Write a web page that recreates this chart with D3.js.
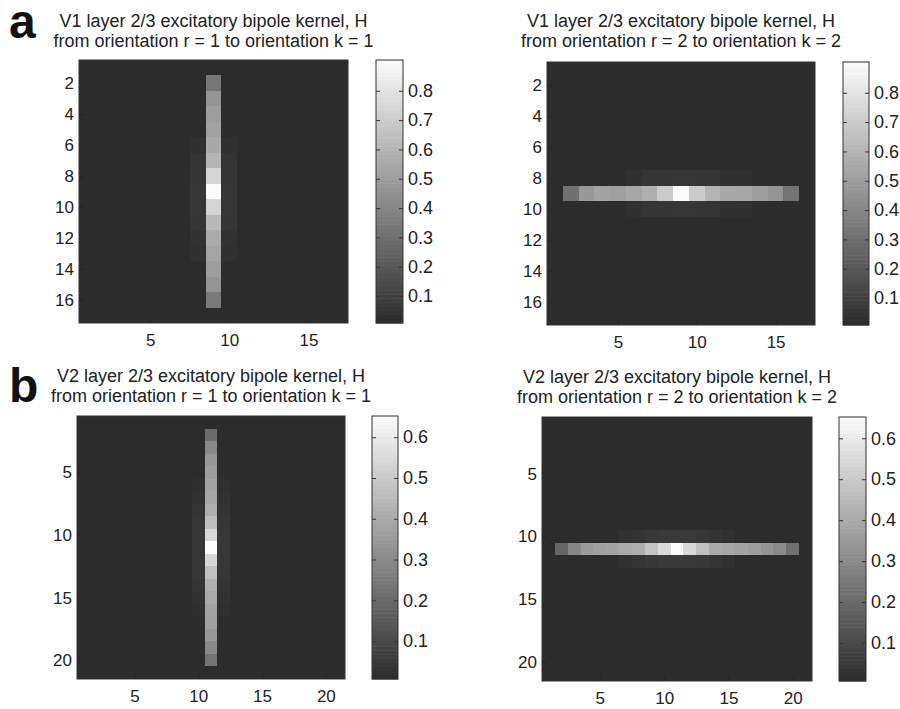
<!DOCTYPE html>
<html>
<head>
<meta charset="utf-8">
<script src="https://cdn.jsdelivr.net/npm/d3@7"></script>
<style>
  body { margin: 0; background: #fff; }
  text { font-family: "Liberation Sans", Arial, Helvetica, sans-serif; fill: #222; }
</style>
</head>
<body>
<div class="visHolder"></div>
<script>
// grid sizes of the two kernels
var v1Size = 17, v2Size = 21;

// near-zero background level of each kernel
var v1Background = 0.012, v2Background = 0.010;

// colour range of each colorbar (min, max)
var v1Extent = [0.008, 0.905];
var v2Extent = [0.007, 0.652];

// V1, r = 1 -> k = 1 : vertical bar in column 9, rows 2..16
var v1VertBar = [0.33, 0.46, 0.50, 0.52, 0.55, 0.60, 0.74, 0.905, 0.74, 0.62, 0.56, 0.53, 0.50, 0.46, 0.35];
// faint flanks in columns 8 and 10, rows 6..13
var v1VertFlank = [0.03, 0.045, 0.05, 0.055, 0.055, 0.05, 0.04, 0.03];

// V1, r = 2 -> k = 2 : horizontal bar in row 9, columns 2..16
var v1HorzBar = [0.31, 0.48, 0.52, 0.51, 0.54, 0.58, 0.70, 0.905, 0.70, 0.60, 0.55, 0.54, 0.50, 0.46, 0.32];
// faint flanks in rows 8 and 10, columns 6..13
var v1HorzFlank = [0.03, 0.05, 0.05, 0.055, 0.05, 0.05, 0.03, 0.03];

// V2, r = 1 -> k = 1 : vertical bar in column 11, rows 2..20
var v2VertBar = [0.21, 0.30, 0.34, 0.36, 0.38, 0.39, 0.41, 0.46, 0.54, 0.652, 0.54, 0.47, 0.42, 0.40, 0.38, 0.37, 0.34, 0.30, 0.23];
// faint flanks in columns 10 and 12, rows 6..16
var v2VertFlank = [0.02, 0.03, 0.035, 0.04, 0.045, 0.045, 0.045, 0.04, 0.035, 0.03, 0.02];

// V2, r = 2 -> k = 2 : horizontal bar in row 11, columns 2..20
var v2HorzBar = [0.19, 0.29, 0.35, 0.37, 0.38, 0.40, 0.41, 0.48, 0.55, 0.652, 0.55, 0.47, 0.40, 0.39, 0.38, 0.36, 0.33, 0.30, 0.22];
// faint flanks in rows 10 and 12, columns 7..15
var v2HorzFlank = [0.025, 0.035, 0.045, 0.05, 0.05, 0.05, 0.045, 0.035, 0.025];

// tick labels
var v1Ticks = [2, 4, 6, 8, 10, 12, 14, 16];
var v1XTicks = [5, 10, 15];
var v2Ticks = [5, 10, 15, 20];
var v1ColorTicks = [0.1, 0.2, 0.3, 0.4, 0.5, 0.6, 0.7, 0.8];
var v2ColorTicks = [0.1, 0.2, 0.3, 0.4, 0.5, 0.6];

var titles = [
    ["V1 layer 2/3 excitatory bipole kernel, H", "from orientation r = 1 to orientation k = 1"],
    ["V1 layer 2/3 excitatory bipole kernel, H", "from orientation r = 2 to orientation k = 2"],
    ["V2 layer 2/3 excitatory bipole kernel, H", "from orientation r = 1 to orientation k = 1"],
    ["V2 layer 2/3 excitatory bipole kernel, H", "from orientation r = 2 to orientation k = 2"]
];

// put a bar and its two flanks into an n x n grid (row, col are 1-based)
function buildKernel(n, bg, bar, barStart, flank, flankStart, center, vertical) {
    var cells = [];
    for (var r = 1; r <= n; r++) {
        for (var c = 1; c <= n; c++) {
            var along = vertical ? r : c;
            var across = vertical ? c : r;
            var v = bg;
            if (across === center && along >= barStart && along < barStart + bar.length) {
                v = bar[along - barStart];
            } else if (Math.abs(across - center) === 1 && along >= flankStart && along < flankStart + flank.length) {
                v = flank[along - flankStart];
            }
            cells.push({ row: r, col: c, value: v });
        }
    }
    return cells;
}

var panels = [
    {
        cells: buildKernel(v1Size, v1Background, v1VertBar, 2, v1VertFlank, 6, 9, true),
        n: v1Size, bg: v1Background, extent: v1Extent, yTicks: v1Ticks, xTicks: v1XTicks, cTicks: v1ColorTicks,
        box: { x: 79, y: 60, w: 269, h: 263 }, cb: { x: 376, w: 27 }, titleY: 27
    },
    {
        cells: buildKernel(v1Size, v1Background, v1HorzBar, 2, v1HorzFlank, 6, 9, false),
        n: v1Size, bg: v1Background, extent: v1Extent, yTicks: v1Ticks, xTicks: v1XTicks, cTicks: v1ColorTicks,
        box: { x: 547, y: 62, w: 268, h: 263 }, cb: { x: 843, w: 26 }, titleY: 27
    },
    {
        cells: buildKernel(v2Size, v2Background, v2VertBar, 2, v2VertFlank, 6, 11, true),
        n: v2Size, bg: v2Background, extent: v2Extent, yTicks: v2Ticks, xTicks: v2Ticks, cTicks: v2ColorTicks,
        box: { x: 77, y: 416, w: 268, h: 263 }, cb: { x: 372, w: 26 }, titleY: 382
    },
    {
        cells: buildKernel(v2Size, v2Background, v2HorzBar, 2, v2HorzFlank, 7, 11, false),
        n: v2Size, bg: v2Background, extent: v2Extent, yTicks: v2Ticks, xTicks: v2Ticks, cTicks: v2ColorTicks,
        box: { x: 542, y: 417, w: 270, h: 264 }, cb: { x: 839, w: 27 }, titleY: 383
    }
];

var svg = d3.select(".visHolder")
    .append("svg")
    .attr("width", 900)
    .attr("height", 709);

// panel letters
svg.append("text").attr("x", 9).attr("y", 38)
    .style("font-size", "48px").style("font-weight", "bold").style("fill", "#111")
    .text("a");
svg.append("text").attr("x", 9).attr("y", 402)
    .style("font-size", "48px").style("font-weight", "bold").style("fill", "#111")
    .text("b");

panels.forEach(function(p, i) {
    var b = p.box;

    var x = d3.scaleLinear().domain([0.5, p.n + 0.5]).range([b.x, b.x + b.w]);
    var y = d3.scaleLinear().domain([0.5, p.n + 0.5]).range([b.y, b.y + b.h]);

    // MATLAB gray map as it came out in print
    var color = d3.scaleLinear().domain(p.extent).range(["#2b2b2b", "#fbfbfb"]).clamp(true);

    var g = svg.append("g");

    // background level under the cells so no seams show
    g.append("rect")
        .attr("x", b.x).attr("y", b.y).attr("width", b.w).attr("height", b.h)
        .style("fill", color(p.bg));

    g.selectAll("rect.cell")
        .data(p.cells.filter((d) => d.value !== p.bg))
        .enter()
        .append("rect")
        .attr("class", "cell")
        .attr("x", (d) => x(d.col - 0.5))
        .attr("y", (d) => y(d.row - 0.5))
        .attr("width", x(1.5) - x(0.5))
        .attr("height", y(1.5) - y(0.5))
        .attr("shape-rendering", "crispEdges")
        .style("fill", (d) => color(d.value));

    g.append("rect")
        .attr("x", b.x).attr("y", b.y).attr("width", b.w).attr("height", b.h)
        .style("fill", "none").style("stroke", "#333").style("stroke-width", 1);

    // axes
    var yAxis = g.append("g")
        .attr("transform", "translate(" + b.x + ",0)")
        .call(d3.axisLeft(y).tickValues(p.yTicks).tickSize(-5).tickPadding(5));
    var xAxis = g.append("g")
        .attr("transform", "translate(0," + (b.y + b.h) + ")")
        .call(d3.axisBottom(x).tickValues(p.xTicks).tickSize(-5).tickPadding(11));
    [yAxis, xAxis].forEach(function(a) {
        a.select(".domain").remove();
        a.selectAll(".tick line").style("stroke", "#262626");
        a.selectAll(".tick text").style("font-size", "17px").style("fill", "#222");
    });

    // title
    var cx = b.x + b.w / 2;
    g.append("text").attr("x", cx).attr("y", p.titleY)
        .attr("text-anchor", "middle").style("font-size", "18px")
        .text(titles[i][0]);
    g.append("text").attr("x", cx).attr("y", p.titleY + 20)
        .attr("text-anchor", "middle").style("font-size", "18px")
        .text(titles[i][1]);

    // colorbar
    var cb = p.cb;
    var cy = d3.scaleLinear().domain(p.extent).range([b.y + b.h, b.y]);
    var levels = d3.range(64);
    var step = (p.extent[1] - p.extent[0]) / 64;
    g.selectAll("rect.level")
        .data(levels)
        .enter()
        .append("rect")
        .attr("class", "level")
        .attr("x", cb.x)
        .attr("y", (d) => cy(p.extent[0] + (d + 1) * step))
        .attr("width", cb.w)
        .attr("height", cy(p.extent[0]) - cy(p.extent[0] + step) + 0.5)
        .style("fill", (d) => color(p.extent[0] + (d + 0.5) * step));

    g.append("rect")
        .attr("x", cb.x).attr("y", b.y).attr("width", cb.w).attr("height", b.h)
        .style("fill", "none").style("stroke", "#333").style("stroke-width", 1);

    var cRight = g.append("g")
        .attr("transform", "translate(" + (cb.x + cb.w) + ",0)")
        .call(d3.axisRight(cy).tickValues(p.cTicks).tickSize(-4).tickPadding(5).tickFormat(d3.format(".1f")));
    var cLeft = g.append("g")
        .attr("transform", "translate(" + cb.x + ",0)")
        .call(d3.axisLeft(cy).tickValues(p.cTicks).tickSize(-4).tickFormat(""));
    [cRight, cLeft].forEach(function(a) {
        a.select(".domain").remove();
        a.selectAll(".tick line").style("stroke", "#333");
        a.selectAll(".tick text").style("font-size", "18px").style("fill", "#222");
    });
});
</script>
</body>
</html>
